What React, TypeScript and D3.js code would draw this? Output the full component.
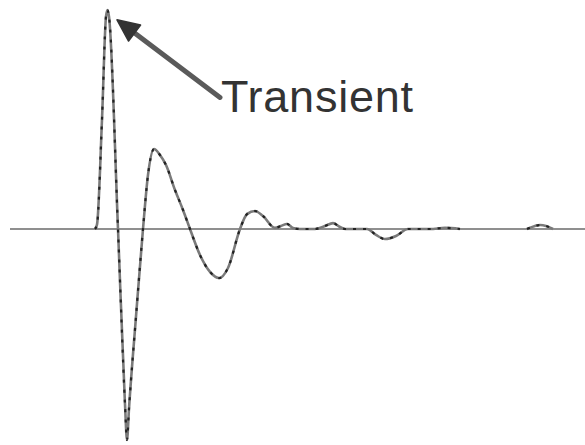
import { useEffect, useRef } from "react";
import * as d3 from "d3";

// waveform samples: time (ms) and normalised amplitude
const mainTime = [8.5, 8.7, 9.2, 9.6, 9.75, 9.9, 10.8, 11.5, 11.7, 11.9, 12.6, 13.3, 13.8, 14.4, 15.0, 15.6, 16.5, 17.3, 18.0, 19.0, 20.0, 20.9, 21.8, 23.0, 23.7, 24.5, 25.3, 26.5, 27.1, 27.7, 28.3, 29.0, 30.5, 31.5, 32.3, 33.0, 33.5, 35.7, 36.6, 37.5, 38.6, 39.8, 42.0, 43.5, 45.0];
const mainAmp = [0, 0.02, 0.5, 0.97, 1.0, 0.97, 0, -0.8, -0.963, -0.82, -0.4, 0, 0.247, 0.365, 0.338, 0.292, 0.178, 0.087, 0, -0.119, -0.196, -0.224, -0.178, 0, 0.068, 0.082, 0.059, 0.005, 0.014, 0.023, 0.005, 0, 0, 0.014, 0.027, 0.009, 0, 0, -0.027, -0.046, -0.032, 0, 0, 0.005, 0];
const tailTime = [51.7, 52.5, 53.0, 53.6, 54.3];
const tailAmp = [0, 0.014, 0.018, 0.014, 0];

const label = "Transient";

export default function App() {
  const svgRef = useRef<SVGSVGElement>(null);

  useEffect(() => {
    if (!svgRef.current) return;
    const width = 585;
    const height = 445;

    d3.select(svgRef.current).selectAll("*").remove();
    const svg = d3.select(svgRef.current)
      .attr("width", width)
      .attr("height", height);

    const x = d3.scaleLinear().domain([0, 57.5]).range([10, 585]);
    const y = d3.scaleLinear().domain([-1, 1]).range([448, 10]);

    // zero line
    svg.append("line")
      .attr("x1", x(0))
      .attr("x2", x(57.5))
      .attr("y1", y(0))
      .attr("y2", y(0))
      .attr("stroke", "#6a6a6a")
      .attr("stroke-width", 1.6);

    const line = d3.line<[number, number]>()
      .x(d => x(d[0]))
      .y(d => y(d[1]))
      .curve(d3.curveMonotoneX);

    const series = [
      mainTime.map((t, i) => [t, mainAmp[i]] as [number, number]),
      tailTime.map((t, i) => [t, tailAmp[i]] as [number, number]),
    ];

    series.forEach(s => {
      svg.append("path")
        .attr("d", line(s))
        .attr("fill", "none")
        .attr("stroke", "#7a7a7a")
        .attr("stroke-width", 2.6);
      svg.append("path")
        .attr("d", line(s))
        .attr("fill", "none")
        .attr("stroke", "#222")
        .attr("stroke-width", 2.2)
        .attr("stroke-dasharray", "3,7");
    });

    // annotation arrow
    const tip: [number, number] = [x(10.7), y(0.955)];
    const tail: [number, number] = [x(21.0), y(0.601)];
    const ang = Math.atan2(tip[1] - tail[1], tip[0] - tail[0]);
    const headLen = 22;
    const headW = 10;
    const bx = tip[0] - headLen * Math.cos(ang);
    const by = tip[1] - headLen * Math.sin(ang);

    svg.append("line")
      .attr("x1", tail[0])
      .attr("y1", tail[1])
      .attr("x2", bx)
      .attr("y2", by)
      .attr("stroke", "#5a5a5a")
      .attr("stroke-width", 5)
      .attr("stroke-linecap", "round");

    svg.append("path")
      .attr("d", d3.line()([
        tip,
        [bx + headW * Math.sin(ang), by - headW * Math.cos(ang)],
        [bx - headW * Math.sin(ang), by + headW * Math.cos(ang)],
      ]) + "Z")
      .attr("fill", "#333")
      .attr("stroke", "#333")
      .attr("stroke-width", 1.5)
      .attr("stroke-linejoin", "round");

    svg.append("text")
      .attr("x", x(21.1))
      .attr("y", 112)
      .attr("font-family", "'Liberation Sans', Arial, sans-serif")
      .attr("font-size", 45)
      .attr("fill", "#333")
      .attr("textLength", 192)
      .text(label);
  }, []);

  return (
    <div style={{ position: "absolute", left: 0, top: 0 }}>
      <svg ref={svgRef} style={{ display: "block", background: "#fff" }} />
    </div>
  );
}
